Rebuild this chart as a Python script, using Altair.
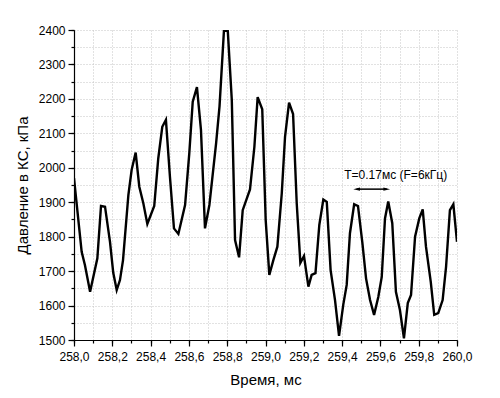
import altair as alt
import pandas as pd

# Time (ms) and pressure (kPa)
time_ms = [258.000, 258.040, 258.057, 258.084, 258.122, 258.141, 258.162, 258.188, 258.205,
           258.223, 258.240, 258.256, 258.284, 258.301, 258.322, 258.341, 258.362, 258.383,
           258.419, 258.440, 258.461, 258.480, 258.501, 258.522, 258.545, 258.580, 258.602,
           258.620, 258.642, 258.663, 258.684, 258.707, 258.742, 258.760, 258.783, 258.803,
           258.824, 258.841, 258.862, 258.881, 258.919, 258.942, 258.959, 258.983, 259.001,
           259.020, 259.041, 259.062, 259.085, 259.102, 259.123, 259.144, 259.163, 259.182,
           259.201, 259.224, 259.241, 259.261, 259.281, 259.302, 259.320, 259.340, 259.363,
           259.384, 259.406, 259.424, 259.441, 259.463, 259.483, 259.506, 259.525, 259.546,
           259.567, 259.589, 259.607, 259.624, 259.641, 259.662, 259.681, 259.702, 259.723,
           259.743, 259.760, 259.781, 259.803, 259.821, 259.838, 259.863, 259.881, 259.902,
           259.925, 259.943, 259.963, 259.981, 260.000]
pressure_kpa = [1970, 1756, 1718, 1640, 1737, 1889, 1887, 1785, 1695,
                1645, 1674, 1732, 1921, 1994, 2044, 1945, 1897, 1837,
                1889, 2027, 2119, 2139, 1974, 1824, 1808, 1892, 2042,
                2192, 2234, 2110, 1824, 1892, 2071, 2179, 2398, 2398,
                2197, 1790, 1740, 1877, 1937, 2061, 2205, 2170, 1848,
                1689, 1732, 1771, 1926, 2090, 2189, 2156, 1897, 1724,
                1744, 1655, 1689, 1694, 1834, 1908, 1901, 1703, 1616,
                1512, 1602, 1660, 1810, 1894, 1889, 1781, 1679, 1616,
                1573, 1625, 1683, 1853, 1902, 1839, 1640, 1587, 1505,
                1607, 1631, 1800, 1853, 1879, 1771, 1669, 1573, 1578,
                1616, 1713, 1877, 1894, 1785]

annot_text = ["T=0.17мс (F=6кГц)"]
annot_x = [259.68]
annot_y = [1979]
arrow_x_start = [259.476]
arrow_x_end = [259.633]
arrow_y = [1938]

x_major = [round(258.0 + 0.2 * i, 1) for i in range(11)]
x_minor = [round(258.0 + 0.1 * i, 1) for i in range(21)]
y_major = [1500 + 100 * i for i in range(10)]
y_minor = [1500 + 50 * i for i in range(19)]

df = pd.DataFrame({"t": time_ms, "p": pressure_kpa})
ann = pd.DataFrame({"x": annot_x, "y": annot_y, "label": annot_text})
arr = pd.DataFrame({"x1": arrow_x_start, "x2": arrow_x_end, "y": arrow_y})
head_l_df = pd.DataFrame({"x": arrow_x_start, "y": arrow_y})
head_r_df = pd.DataFrame({"x": arrow_x_end, "y": arrow_y})

FONT = "Liberation Sans"

xscale = alt.Scale(domain=[258.0, 260.0], nice=False, zero=False)
yscale = alt.Scale(domain=[1500, 2400], nice=False, zero=False)

common = dict(
    titleFont=FONT, titleFontSize=15, titleFontWeight="normal", titleColor="black",
    labelFont=FONT, labelFontSize=12, labelColor="black",
    tickColor="black", tickWidth=1.2,
    domainColor="black", domainWidth=1.2,
    labelFlush=False, labelOverlap=False,
)

x_axis_major = alt.Axis(
    orient="bottom", values=x_major, title="Время, мс", titlePadding=10,
    labelExpr="replace(format(datum.value, '.1f'), '.', ',')",
    labelPadding=5, tickSize=6, grid=False, **common,
)
y_axis_major = alt.Axis(
    orient="left", values=y_major, title="Давление в КС, кПа", titlePadding=8,
    format="d", labelPadding=3, tickSize=6, grid=False, **common,
)
x_axis_minor = alt.Axis(
    orient="bottom", values=x_minor, title=None, labels=False,
    tickSize=3, tickColor="black", tickWidth=1.2, domain=False,
    grid=True, gridColor="#c4c4c4", gridDash=[1, 2], gridWidth=1,
)
y_axis_minor = alt.Axis(
    orient="left", values=y_minor, title=None, labels=False,
    tickSize=3, tickColor="black", tickWidth=1.2, domain=False,
    grid=True, gridColor="#c4c4c4", gridDash=[1, 2], gridWidth=1,
)

grid_layer = alt.Chart(df).mark_line(opacity=0).encode(
    x=alt.X("t:Q", scale=xscale, axis=x_axis_minor),
    y=alt.Y("p:Q", scale=yscale, axis=y_axis_minor),
)

line = alt.Chart(df).mark_line(color="black", strokeWidth=2.4, clip=True).encode(
    x=alt.X("t:Q", scale=xscale, axis=x_axis_major),
    y=alt.Y("p:Q", scale=yscale, axis=y_axis_major),
)

text = alt.Chart(ann).mark_text(font=FONT, fontSize=12, color="black").encode(
    x=alt.X("x:Q", scale=xscale, axis=None), y=alt.Y("y:Q", scale=yscale, axis=None),
    text="label:N",
)

rule = alt.Chart(arr).mark_rule(color="black", strokeWidth=1.5).encode(
    x=alt.X("x1:Q", scale=xscale, axis=None), x2="x2:Q",
    y=alt.Y("y:Q", scale=yscale, axis=None),
)

head_l = alt.Chart(head_l_df).mark_point(
    shape="M1,-0.45L-1,0L1,0.45Z", filled=True, color="black", size=45, opacity=1
).encode(x=alt.X("x:Q", scale=xscale, axis=None), y=alt.Y("y:Q", scale=yscale, axis=None))
head_r = alt.Chart(head_r_df).mark_point(
    shape="M-1,-0.45L1,0L-1,0.45Z", filled=True, color="black", size=45, opacity=1
).encode(x=alt.X("x:Q", scale=xscale, axis=None), y=alt.Y("y:Q", scale=yscale, axis=None))

chart = alt.layer(grid_layer, line, text, rule, head_l, head_r).resolve_axis(
    x="independent", y="independent"
).properties(
    width=383, height=310,
    autosize=alt.AutoSizeParams(type="none"),
    padding={"left": 66, "top": 22, "right": 20, "bottom": 50},
    background="white",
).configure_view(stroke=None)

chart.save("out.html", embed_options={"renderer": "svg", "actions": False})
